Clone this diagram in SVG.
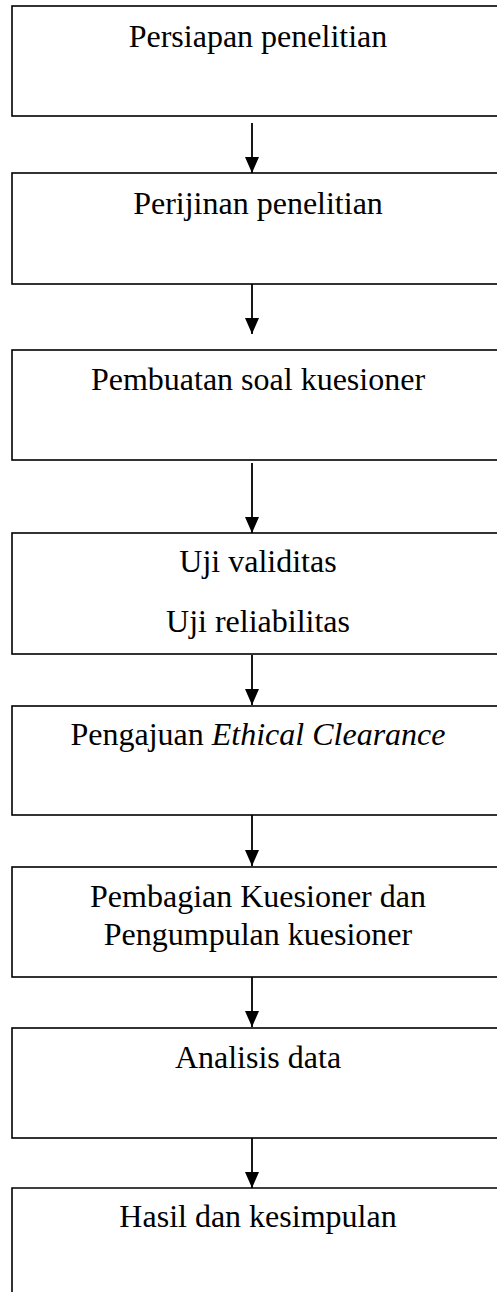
<svg xmlns="http://www.w3.org/2000/svg" width="497" height="1292" viewBox="0 0 497 1292">
<style>
.box{fill:#fff;stroke:#000;stroke-width:1.6}
.lbl{font-family:"Liberation Serif","Times New Roman",serif;font-size:32px;fill:#000;text-anchor:middle}
.conn{stroke:#000;stroke-width:1.8;fill:none;marker-end:url(#ah)}
</style>
<defs>
<marker id="ah" markerUnits="userSpaceOnUse" markerWidth="16" markerHeight="14" refX="16" refY="7" orient="auto">
<path d="M0,0 L16,7 L0,14 z" fill="#000"/>
</marker>
</defs>
<rect width="497" height="1292" fill="#fff"/>
<g id="n1"><rect class="box" x="12" y="6" width="500" height="110"/><text class="lbl" x="258" y="47">Persiapan penelitian</text></g>
<g id="n2"><rect class="box" x="12" y="173" width="500" height="111"/><text class="lbl" x="258" y="214">Perijinan penelitian</text></g>
<g id="n3"><rect class="box" x="12" y="350" width="500" height="110"/><text class="lbl" x="258" y="390">Pembuatan soal kuesioner</text></g>
<g id="n4"><rect class="box" x="12" y="533" width="500" height="121"/><text class="lbl" x="258" y="572">Uji validitas</text><text class="lbl" x="258" y="632">Uji reliabilitas</text></g>
<g id="n5"><rect class="box" x="12" y="706" width="500" height="109"/><text class="lbl" x="258" y="745">Pengajuan <tspan font-style="italic">Ethical Clearance</tspan></text></g>
<g id="n6"><rect class="box" x="12" y="867" width="500" height="110"/><text class="lbl" x="258" y="907">Pembagian Kuesioner dan</text><text class="lbl" x="258" y="945">Pengumpulan kuesioner</text></g>
<g id="n7"><rect class="box" x="12" y="1028" width="500" height="110"/><text class="lbl" x="258" y="1068">Analisis data</text></g>
<g id="n8"><path class="box" d="M12,1300 L12,1188 L512,1188"/><text class="lbl" x="258" y="1227">Hasil dan kesimpulan</text></g>
<g id="connectors">
<line class="conn" x1="252" y1="123" x2="252" y2="173"/>
<line class="conn" x1="252" y1="284" x2="252" y2="334"/>
<line class="conn" x1="252" y1="463" x2="252" y2="533"/>
<line class="conn" x1="252" y1="655" x2="252" y2="705"/>
<line class="conn" x1="252" y1="815" x2="252" y2="866"/>
<line class="conn" x1="252" y1="977" x2="252" y2="1027"/>
<line class="conn" x1="252" y1="1138" x2="252" y2="1188"/>
</g>
</svg>
